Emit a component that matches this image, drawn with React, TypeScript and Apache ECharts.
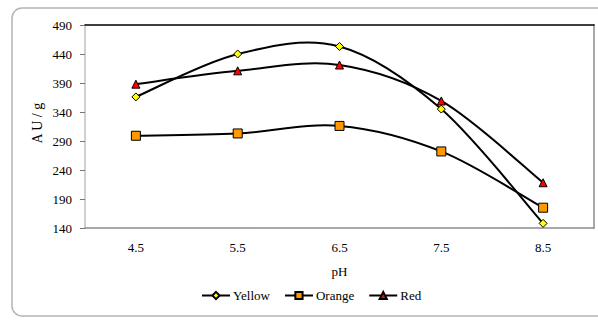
import React, { useEffect, useRef } from "react";
import * as echarts from "echarts";

const categories = ["4.5", "5.5", "6.5", "7.5", "8.5"];
const yellow = [366, 440, 453, 345, 148];
const orange = [299, 303, 316, 272, 175];
const red = [388, 411, 421, 359, 218];
const yMin = 140;
const yMax = 490;
const yInterval = 50;

const FONT = "Liberation Serif";

function curveSeries(name: string, values: number[]) {
  return {
    name,
    type: "custom",
    data: values.map((v, i) => [i, v]),
    z: 2,
    silent: true,
    renderItem: (params: any, api: any) => {
      const i = params.dataIndex;
      const n = values.length;
      if (i >= n - 1) return { type: "group", children: [] };
      const pt = (j: number) => {
        const k = Math.max(0, Math.min(n - 1, j));
        return api.coord([k, values[k]]);
      };
      const p0 = pt(i - 1);
      const p1 = pt(i);
      const p2 = pt(i + 1);
      const p3 = pt(i + 2);
      const t = 1 / 6;
      return {
        type: "bezierCurve",
        shape: {
          x1: p1[0],
          y1: p1[1],
          x2: p2[0],
          y2: p2[1],
          cpx1: p1[0] + (p2[0] - p0[0]) * t,
          cpy1: p1[1] + (p2[1] - p0[1]) * t,
          cpx2: p2[0] - (p3[0] - p1[0]) * t,
          cpy2: p2[1] - (p3[1] - p1[1]) * t,
        },
        style: { stroke: "#000", lineWidth: 2, fill: "none" },
      };
    },
  };
}

export default function App() {
  const ref = useRef<HTMLDivElement>(null);
  useEffect(() => {
    if (!ref.current) return;
    const chart = echarts.init(ref.current, undefined, { renderer: "svg" });
    const mk = (name: string, data: number[], symbol: string, size: number, color: string) => ({
      name,
      type: "line",
      data,
      symbol,
      symbolSize: size,
      showSymbol: true,
      lineStyle: { color: "#000", width: 2, opacity: 0 },
      itemStyle: { color, borderColor: "#000", borderWidth: 1 },
      emphasis: { disabled: true },
      z: 3,
    });
    chart.setOption({
      animation: false,
      backgroundColor: "#fff",
      textStyle: { fontFamily: FONT },
      graphic: [
        {
          type: "rect",
          shape: { x: 12, y: 8, width: 620, height: 308, r: 10 },
          style: { fill: "none", stroke: "#b4b4b4", lineWidth: 1.5 },
          silent: true,
          z: -1,
        },
        {
          type: "text",
          left: 30,
          top: 102,
          rotation: Math.PI / 2,
          style: { text: "A U / g", font: `14px ${FONT}`, fill: "#000" },
        },
      ],
      grid: { left: 85, top: 25, right: 4, bottom: 98, containLabel: false },
      legend: {
        bottom: 19,
        left: 196,
        itemWidth: 28,
        itemHeight: 9,
        itemGap: 14,
        lineStyle: { color: "#000", width: 2, opacity: 1 },
        textStyle: { fontFamily: FONT, fontSize: 13, color: "#000", padding: [0, 0, 0, -2] },
        data: ["Yellow", "Orange", "Red"],
      },
      xAxis: [
        {
          type: "category",
          data: categories,
          boundaryGap: true,
          name: "pH",
          nameLocation: "middle",
          nameGap: 37,
          nameTextStyle: { fontFamily: FONT, fontSize: 13, color: "#000" },
          axisLine: { lineStyle: { color: "#8c8c8c", width: 1.5 } },
          axisTick: { show: false },
          axisLabel: { fontFamily: FONT, fontSize: 13, color: "#000", margin: 13 },
        },
        {
          type: "category",
          data: categories,
          position: "top",
          axisLine: { lineStyle: { color: "#000", width: 1.5 } },
          axisTick: { show: false },
          axisLabel: { show: false },
        },
      ],
      yAxis: [
        {
          type: "value",
          min: yMin,
          max: yMax,
          interval: yInterval,
          axisLine: { show: true, lineStyle: { color: "#d0d0d0", width: 2 } },
          axisTick: { show: true, inside: false, length: 5, lineStyle: { color: "#777", width: 1 } },
          axisLabel: { fontFamily: FONT, fontSize: 13, color: "#000", margin: 13 },
          splitLine: { show: false },
        },
        {
          type: "value",
          min: yMin,
          max: yMax,
          interval: yInterval,
          position: "right",
          axisLine: { show: true, lineStyle: { color: "#a8a8a8", width: 2 } },
          axisTick: { show: false },
          axisLabel: { show: false },
          splitLine: { show: false },
        },
      ],
      series: [
        curveSeries("Yellow curve", yellow),
        curveSeries("Orange curve", orange),
        curveSeries("Red curve", red),
        mk("Yellow", yellow, "diamond", 8, "#ffff00"),
        mk("Orange", orange, "rect", 9, "#ff9900"),
        mk("Red", red, "triangle", 8, "#ff0000"),
      ],
    });
    return () => chart.dispose();
  }, []);
  return (
    <div
      ref={ref}
      style={{ position: "fixed", left: 0, top: 0, width: 598, height: 326 }}
    />
  );
}
